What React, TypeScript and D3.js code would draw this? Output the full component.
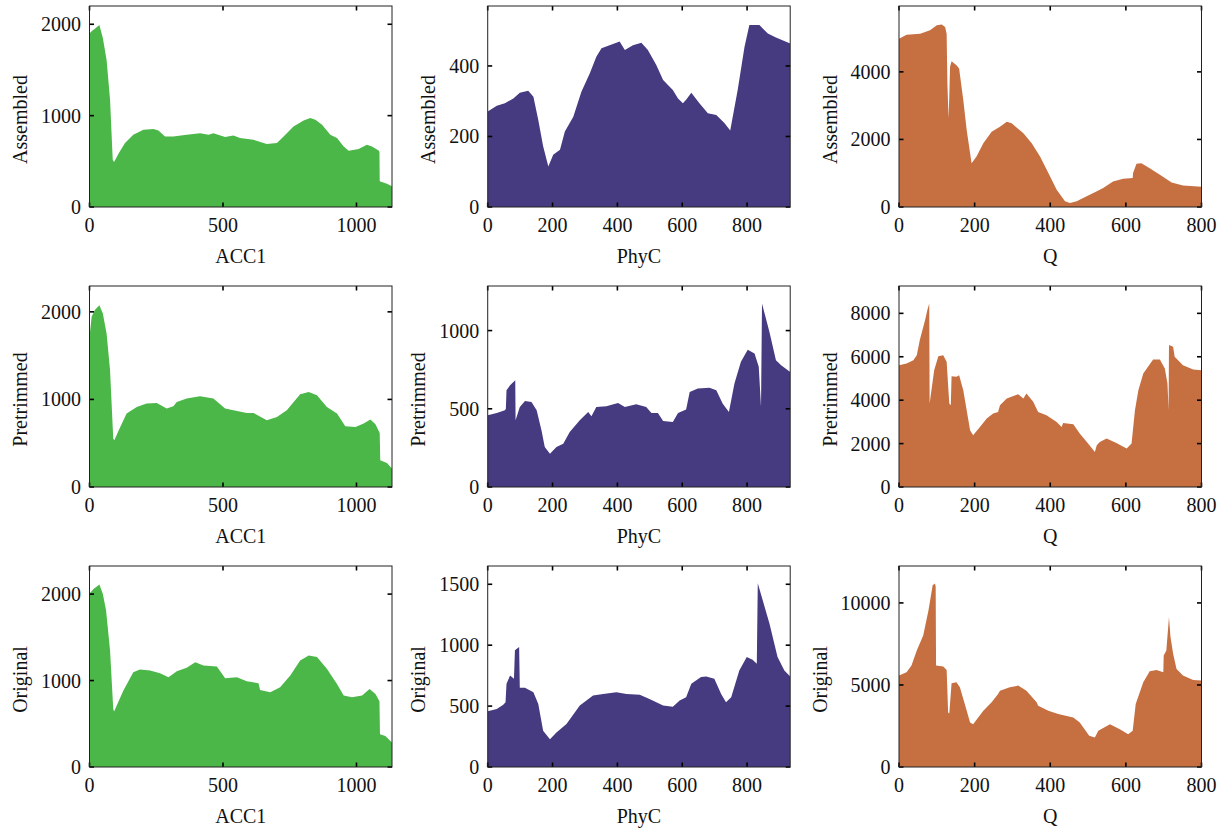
import React from "react";
import * as d3 from "d3";

type Pt = [number, number];

// coverage profiles as [position, depth]
const ACC1_ASSEMBLED: Pt[] = [
  [0, 1900], [10, 1930], [20, 1950], [37, 1993], [50, 1850], [64, 1610], [77, 1173], [87, 517], [92, 492],
  [110, 590], [133, 700], [164, 790], [202, 845], [240, 853], [258, 838], [283, 772], [314, 772], [364, 790],
  [414, 808], [446, 790], [464, 808], [508, 765], [539, 783], [564, 754], [614, 736], [664, 689], [702, 700],
  [727, 772], [764, 882], [802, 947], [827, 973], [846, 955], [871, 900], [902, 790], [927, 754], [952, 663],
  [971, 616], [1008, 634], [1039, 681], [1058, 663], [1083, 619], [1086, 600], [1087, 281], [1114, 255], [1133, 226],
];

const ACC1_PRETRIMMED: Pt[] = [
  [0, 1714], [8, 1943], [20, 2020], [37, 2076], [50, 1980], [64, 1752], [77, 1333], [89, 552], [93, 533],
  [110, 650], [139, 838], [177, 914], [214, 952], [252, 960], [289, 895], [314, 922], [327, 971], [364, 1010],
  [414, 1036], [464, 1010], [508, 895], [539, 876], [589, 846], [614, 846], [664, 762], [702, 800], [739, 876],
  [789, 1059], [821, 1086], [852, 1048], [889, 914], [927, 838], [958, 693], [996, 686], [1027, 724],
  [1052, 770], [1071, 716], [1087, 617], [1089, 305], [1114, 274], [1133, 210],
];

const ACC1_ORIGINAL: Pt[] = [
  [0, 2008], [15, 2060], [37, 2112], [50, 2000], [62, 1814], [77, 1349], [89, 670], [92, 643], [127, 884],
  [164, 1097], [189, 1128], [227, 1116], [264, 1085], [296, 1039], [327, 1109], [364, 1147], [396, 1213],
  [427, 1174], [477, 1163], [508, 1027], [552, 1039], [589, 992], [633, 969], [639, 891], [677, 864],
  [714, 922], [752, 1058], [789, 1233], [821, 1291], [852, 1271], [889, 1136], [927, 961], [952, 826],
  [983, 806], [1021, 826], [1049, 903], [1071, 845], [1086, 760], [1088, 380], [1108, 360], [1133, 283],
];

const PHYC_ASSEMBLED: Pt[] = [
  [0, 271], [28, 287], [53, 294], [79, 308], [99, 324], [125, 330], [141, 313], [156, 247], [171, 172],
  [187, 115], [202, 148], [223, 162], [238, 214], [264, 256], [289, 327], [315, 379], [335, 426], [351, 450],
  [376, 459], [407, 469], [423, 445], [448, 459], [474, 466], [494, 445], [520, 403], [541, 360], [571, 332],
  [587, 308], [602, 294], [612, 304], [628, 324], [653, 294], [679, 266], [705, 261], [730, 238], [748, 217],
  [771, 332], [792, 454], [807, 516], [838, 516], [864, 492], [889, 481], [933, 464],
];

const PHYC_PRETRIMMED: Pt[] = [
  [0, 458], [28, 473], [53, 490], [56, 500], [58, 618], [69, 650], [85, 682], [86, 426], [99, 512],
  [115, 550], [135, 544], [151, 490], [166, 362], [176, 256], [192, 213], [212, 256], [233, 277], [253, 352],
  [284, 426], [310, 480], [320, 452], [335, 512], [366, 516], [402, 537], [423, 512], [458, 529], [489, 512],
  [505, 473], [525, 473], [541, 422], [571, 416], [587, 473], [612, 495], [623, 608], [648, 629], [684, 635],
  [705, 618], [725, 533], [744, 480], [761, 661], [781, 800], [802, 878], [823, 853], [836, 768], [843, 512],
  [846, 1173], [869, 991], [889, 810], [905, 778], [933, 735],
];

const PHYC_ORIGINAL: Pt[] = [
  [0, 457], [28, 476], [48, 512], [55, 531], [58, 683], [69, 751], [81, 724], [84, 958], [97, 985], [99, 650],
  [115, 650], [141, 614], [156, 517], [171, 297], [192, 228], [212, 283], [243, 352], [284, 504], [325, 586],
  [356, 600], [397, 614], [428, 600], [469, 594], [499, 559], [541, 504], [571, 495], [592, 545], [612, 572],
  [628, 683], [658, 738], [674, 743], [699, 724], [720, 600], [735, 531], [751, 572], [776, 793], [799, 903],
  [817, 881], [830, 848], [833, 1508], [848, 1370], [869, 1178], [894, 903], [915, 793], [933, 743],
];

const Q_ASSEMBLED: Pt[] = [
  [0, 4984], [20, 5102], [56, 5131], [82, 5230], [100, 5377], [113, 5406], [122, 5328], [126, 5131],
  [128, 3657], [131, 2625], [133, 3264], [135, 4148], [139, 4315], [152, 4197], [159, 4099], [170, 3165],
  [179, 2281], [192, 1298], [205, 1494], [223, 1887], [245, 2231], [267, 2379], [285, 2526], [298, 2477],
  [329, 2182], [351, 1887], [373, 1494], [395, 1003], [417, 511], [439, 167], [452, 118], [470, 167],
  [487, 265], [522, 462], [540, 560], [566, 757], [593, 836], [618, 855], [619, 1003], [628, 1278],
  [641, 1298], [663, 1150], [690, 954], [721, 727], [751, 639], [800, 600],
];

const Q_PRETRIMMED: Pt[] = [
  [0, 5614], [20, 5690], [38, 5844], [47, 6075], [55, 6767], [69, 7690], [75, 8151], [80, 8459], [81, 3845],
  [93, 5383], [104, 6029], [117, 6075], [126, 5768], [133, 3845], [137, 3768], [139, 5106], [152, 5075],
  [159, 5152], [170, 4460], [179, 3537], [188, 2615], [196, 2384], [214, 2768], [232, 3153], [249, 3384],
  [262, 3460], [267, 3768], [285, 4076], [315, 4276], [329, 4076], [337, 4306], [355, 3922], [368, 3460],
  [390, 3307], [417, 2999], [430, 2768], [434, 2953], [461, 2891], [478, 2461], [500, 1999], [518, 1615],
  [523, 1922], [531, 2076], [549, 2230], [575, 2030], [602, 1769], [615, 1999], [624, 3537], [633, 4460],
  [646, 5229], [672, 5875], [690, 5875], [703, 5460], [710, 4768], [713, 3537], [714, 6537], [725, 6460],
  [729, 5998], [751, 5614], [778, 5414], [800, 5383],
];

const Q_ORIGINAL: Pt[] = [
  [0, 5572], [20, 5776], [33, 6184], [47, 7103], [64, 8021], [78, 9552], [89, 11083], [95, 11185],
  [97, 11000], [98, 6184], [117, 6123], [126, 5919], [130, 3327], [133, 3266], [139, 5103], [152, 5164],
  [161, 4858], [174, 3837], [188, 2715], [196, 2613], [223, 3429], [245, 3939], [262, 4449], [267, 4654],
  [293, 4858], [315, 4960], [337, 4654], [364, 3939], [368, 3735], [395, 3429], [421, 3225], [461, 3021],
  [478, 2715], [503, 1898], [518, 1796], [527, 2204], [558, 2613], [584, 2306], [606, 2000], [618, 2204],
  [626, 3837], [646, 5164], [663, 5837], [681, 5919], [699, 5776], [700, 6796], [707, 7103], [714, 9144],
  [718, 7919], [725, 6899], [734, 5980], [751, 5572], [778, 5307], [800, 5266],
];

const GENES = ["ACC1", "PhyC", "Q"];
const STAGES = ["Assembled", "Pretrimmed", "Original"];
const GENE_LENGTH = [1133, 933, 800];
const GENE_X_TICKS = [[0, 500, 1000], [0, 200, 400, 600, 800], [0, 200, 400, 600, 800]];
const GENE_COLOR = ["#4cb749", "#463b80", "#c67042"];

const SERIES: Pt[][][] = [
  [ACC1_ASSEMBLED, PHYC_ASSEMBLED, Q_ASSEMBLED],
  [ACC1_PRETRIMMED, PHYC_PRETRIMMED, Q_PRETRIMMED],
  [ACC1_ORIGINAL, PHYC_ORIGINAL, Q_ORIGINAL],
];
const Y_MAX = [
  [2200, 570, 5950],
  [2295, 1285, 9260],
  [2325, 1650, 12250],
];
const Y_TICKS = [
  [[0, 1000, 2000], [0, 200, 400], [0, 2000, 4000]],
  [[0, 1000, 2000], [0, 500, 1000], [0, 2000, 4000, 6000, 8000]],
  [[0, 1000, 2000], [0, 500, 1000, 1500], [0, 5000, 10000]],
];

const W = 1226;
const H = 829;
const COL_LEFT = [89.5, 487.7, 899];
const ROW_TOP = [6, 286, 566];
const PW = 302.5;
const PH = 201;
const FONT = "'Liberation Serif', 'DejaVu Serif', serif";

function Panel({ row, col }: { row: number; col: number }) {
  const left = COL_LEFT[col];
  const top = ROW_TOP[row];
  const x = d3.scaleLinear().domain([0, GENE_LENGTH[col]]).range([left, left + PW]);
  const y = d3.scaleLinear().domain([0, Y_MAX[row][col]]).range([top + PH, top]);
  const area = d3.area<Pt>()
    .x(d => x(d[0]))
    .y0(y(0))
    .y1(d => y(d[1]));
  const yTicks = Y_TICKS[row][col];
  const xTicks = GENE_X_TICKS[col];
  const labelW = d3.max(yTicks, t => String(t).length)! * 10;
  const clipId = `clip-${row}-${col}`;
  const bottom = top + PH;

  return (
    <g>
      <clipPath id={clipId}>
        <rect x={left} y={top} width={PW} height={PH} />
      </clipPath>
      <path d={area(SERIES[row][col]) || ""} fill={GENE_COLOR[col]} clipPath={`url(#${clipId})`} />
      {xTicks.map(t => (
        <g key={"x" + t}>
          <line x1={x(t)} x2={x(t)} y1={top} y2={top + 4.5} stroke="#000" strokeWidth={1.6} />
          <line x1={x(t)} x2={x(t)} y1={bottom} y2={bottom - 4.5} stroke="#000" strokeWidth={1.6} />
          <text x={x(t)} y={bottom + 25} textAnchor="middle">{t}</text>
        </g>
      ))}
      {yTicks.map(t => (
        <g key={"y" + t}>
          <line x1={left} x2={left + 4.5} y1={y(t)} y2={y(t)} stroke="#000" strokeWidth={1.6} />
          <line x1={left + PW} x2={left + PW - 4.5} y1={y(t)} y2={y(t)} stroke="#000" strokeWidth={1.6} />
          <text x={left - 8.5} y={y(t)} dy="0.35em" textAnchor="end">{t}</text>
        </g>
      ))}
      <rect x={left} y={top} width={PW} height={PH} fill="none" stroke="#222" strokeWidth={1} />
      <text x={left + PW / 2} y={bottom + 56} textAnchor="middle">{GENES[col]}</text>
      <text
        transform={`translate(${left - 8.5 - labelW - 14},${top + PH / 2 + 13}) rotate(-90)`}
        textAnchor="middle"
      >
        {STAGES[row]}
      </text>
    </g>
  );
}

export default function App() {
  return (
    <svg
      width={W}
      height={H}
      style={{ position: "absolute", left: 0, top: 0, background: "#fff" }}
      fontFamily={FONT}
      fontSize={20}
      fill="#111"
    >
      {STAGES.map((_, r) => GENES.map((_, c) => <Panel key={`${r}-${c}`} row={r} col={c} />))}
    </svg>
  );
}
